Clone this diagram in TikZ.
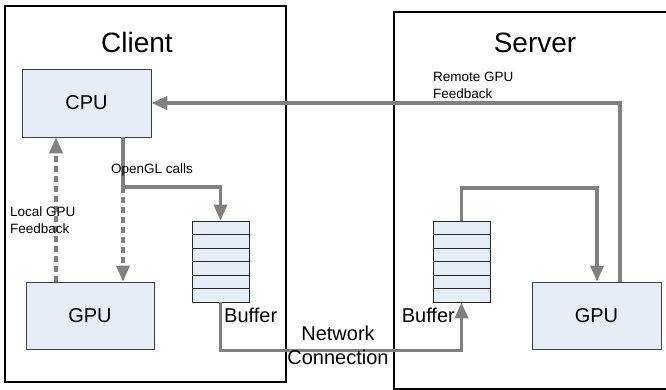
\documentclass[tikz,border=0pt]{standalone}
\usepackage{fontspec}
\setmainfont{Liberation Sans}
\usetikzlibrary{arrows.meta,calc}
\definecolor{unitfill}{HTML}{E7EDF7}
\definecolor{pipe}{HTML}{808080}

\begin{document}
\begin{tikzpicture}[x=1pt,y=-1pt]
\tikzstyle{frame}=[draw=black, line width=1.6pt]
\tikzstyle{unit}=[draw=black!75, fill=unitfill, line width=0.7pt,
                        inner sep=0pt, font=\fontsize{20}{24}\selectfont]
\tikzstyle{queue}=[draw=black!85, fill=unitfill, line width=0.7pt,
                        minimum width=57pt, minimum height=81pt, inner sep=0pt]
\tikzstyle{flow}=[draw=pipe, line width=3.6pt,
                        -{Triangle[width=13pt,length=16pt]}]
\tikzstyle{note}=[inner sep=0pt, align=left, font=\fontsize{13.5}{17}\selectfont]
\tikzstyle{title}=[inner sep=0pt, font=\fontsize{28}{32}\selectfont]
\tikzstyle{tag}=[inner sep=0pt, align=center, font=\fontsize{20}{24}\selectfont]
\useasboundingbox (0,0) rectangle (666,390);
% machines
\draw[frame] (5,6) rectangle (286,382);
\draw[frame] (670,12) -- (394,12) -- (394,389) -- (670,389);
\node[title] (client) at (137,42) {Client};
\node[title] (server) at (535,43) {Server};
% units
	\node[unit, minimum width=129pt, minimum height=68pt] (cpu) at (86.5,103){CPU};
	\node[unit, minimum width=128pt, minimum height=67pt] (cgpu) at (90,315.5){GPU};
	\node[unit, minimum width=129pt, minimum height=67pt] (sgpu) at (596.5,315.5){GPU};
	\node[queue] (cbuf) at (220.5,261.5){};
	\node[queue] (sbuf) at (461.5,261.5){};
\foreach \q in {cbuf,sbuf}
  \foreach \k in {1,...,5}
    \draw[black!85, line width=0.7pt] ($(\q.north west)!\k/6!(\q.south west)$)
      -- ($(\q.north east)!\k/6!(\q.south east)$);
\node[tag, anchor=west] (cbuftag) at (224,315) {Buffer};
\node[tag, anchor=east] (sbuftag) at (455,315) {Buffer};
% links
\coordinate (split) at (123,187);
\draw[flow] (cpu.south -| split) -- (split) -| (cbuf.north);
\draw[flow, dash pattern=on 6pt off 4pt] (split) -- (cgpu.north -| split);
\draw[flow, dash pattern=on 6pt off 4pt] (cgpu.north -| 56,0) -- (cpu.south -| 56,0);
\draw[flow] (cbuf.south) -- ++(0,48) -| (sbuf.south);
\draw[flow] (sbuf.north) |- (597,188) -- (sgpu.north -| 597,0);
\draw[flow] (sgpu.north -| 620,0) |- (cpu.east);
% labels
\node[note] (gl) at (152,170) {OpenGL calls};
\node[note, anchor=west] (local) at (10,220.5) {Local GPU\\Feedback};
\node[note, anchor=west] (remote) at (433,85.5) {Remote GPU\\Feedback};
\node[tag] (net) at (338,345) {Network\\Connection};
\end{tikzpicture}
\end{document}
